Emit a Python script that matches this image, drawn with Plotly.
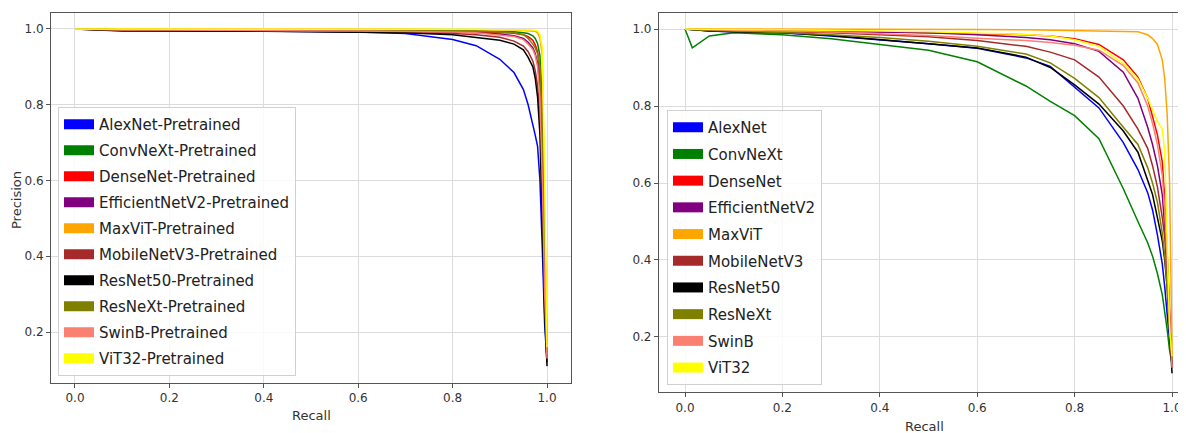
import plotly.graph_objects as go

# ---------------- data ----------------
MODELS = ["AlexNet", "ConvNeXt", "DenseNet", "EfficientNetV2", "MaxViT",
          "MobileNetV3", "ResNet50", "ResNeXt", "SwinB", "ViT32"]
COLORS = ["#0000FF", "#008000", "#FF0000", "#800080", "#FFA500",
          "#A52A2A", "#000000", "#808000", "#FA8072", "#FFFF00"]

# Left panel: pretrained models
REC_L = [0, 0.05, 0.1, 0.2, 0.3, 0.4, 0.5, 0.6, 0.7, 0.8, 0.85, 0.9, 0.93,
         0.95, 0.96, 0.97, 0.975, 0.98, 0.985, 0.99, 0.995, 1.0]
ALEX_L = [1.0, .998, .997, .997, .996, .995, .994, .992, .988, .972, .956, .92, .885, .84, .80, .75, .72, .69, .60, .42, .22, .12]
CONV_L = [1.0, .999, .998, .998, .998, .998, .998, .997, .997, .996, .995, .994, .993, .99, .988, .982, .975, .962, .93, .80, .45, .15]
DENSE_L = [1.0, .999, .998, .998, .997, .997, .997, .996, .995, .994, .993, .991, .989, .985, .98, .97, .958, .94, .88, .70, .35, .13]
EFF_L = [1.0, .998, .997, .997, .996, .996, .995, .995, .994, .992, .99, .987, .982, .975, .965, .95, .935, .91, .85, .65, .32, .13]
MAX_L = [1.0, 1.0, 1.0, 1.0, .999, .999, .999, .999, .999, .998, .998, .997, .997, .996, .995, .995, .994, .99, .975, .93, .50, .15]
MOB_L = [1.0, .997, .996, .995, .995, .994, .994, .993, .991, .988, .985, .978, .968, .955, .94, .915, .89, .85, .77, .55, .30, .12]
RES_L = [1.0, .997, .995, .995, .995, .994, .993, .992, .99, .985, .978, .97, .96, .945, .925, .90, .87, .82, .72, .50, .25, .11]
RNX_L = [1.0, .999, .998, .998, .997, .997, .997, .996, .996, .995, .994, .992, .99, .985, .975, .96, .95, .935, .90, .75, .40, .14]
SWIN_L = [1.0, .998, .997, .997, .996, .996, .995, .995, .994, .992, .99, .985, .98, .972, .96, .945, .93, .90, .82, .60, .30, .13]
VIT_L = [1.0, 1.0, 1.0, 1.0, 1.0, 1.0, 1.0, .999, .999, .999, .999, .998, .998, .998, .997, .997, .996, .995, .985, .95, .60, .16]

# Right panel: models trained from scratch
REC_R = [0, 0.015, 0.05, 0.1, 0.2, 0.3, 0.4, 0.5, 0.6, 0.7, 0.75, 0.8, 0.85,
         0.9, 0.93, 0.95, 0.96, 0.97, 0.98, 0.985, 0.99, 0.995, 1.0]
ALEX_R = [1.0, .998, .995, .993, .99, .982, .972, .962, .95, .925, .903, .85, .795, .705, .635, .575, .53, .465, .39, .33, .26, .19, .15]
CONV_R = [1.0, .951, .982, .99, .985, .975, .96, .945, .915, .852, .812, .775, .715, .585, .50, .445, .41, .365, .31, .27, .22, .165, .13]
DENSE_R = [1.0, 1.0, .999, .998, .997, .995, .993, .991, .988, .985, .982, .975, .96, .92, .875, .82, .775, .725, .655, .56, .42, .25, .12]
EFF_R = [1.0, 1.0, .999, .998, .996, .994, .992, .99, .985, .978, .972, .962, .942, .888, .82, .745, .70, .645, .57, .49, .40, .25, .13]
MAX_R = [1.0, 1.0, 1.0, 1.0, 1.0, 1.0, 1.0, .999, .999, .998, .997, .996, .995, .994, .993, .985, .975, .96, .92, .87, .78, .60, .15]
MOB_R = [1.0, .999, .998, .996, .993, .99, .985, .98, .97, .955, .94, .92, .875, .80, .74, .69, .645, .59, .51, .46, .36, .24, .13]
RES_R = [1.0, .998, .995, .993, .99, .983, .973, .962, .951, .927, .90, .855, .805, .735, .68, .61, .57, .51, .45, .40, .33, .22, .106]
RNX_R = [1.0, .998, .996, .994, .991, .985, .978, .968, .955, .935, .912, .872, .822, .745, .70, .64, .60, .55, .47, .41, .33, .22, .14]
SWIN_R = [1.0, 1.0, .999, .997, .995, .992, .988, .983, .976, .97, .965, .958, .945, .905, .86, .80, .755, .70, .62, .53, .40, .24, .12]
VIT_R = [1.0, 1.0, 1.0, .999, .998, .997, .995, .993, .99, .986, .982, .972, .955, .91, .87, .82, .79, .76, .74, .68, .45, .22, .15]

LEFT_CURVES = [ALEX_L, CONV_L, DENSE_L, EFF_L, MAX_L, MOB_L, RES_L, RNX_L, SWIN_L, VIT_L]
RIGHT_CURVES = [ALEX_R, CONV_R, DENSE_R, EFF_R, MAX_R, MOB_R, RES_R, RNX_R, SWIN_R, VIT_R]

X_TICKS = [0.0, 0.2, 0.4, 0.6, 0.8, 1.0]
Y_TICKS = [0.2, 0.4, 0.6, 0.8, 1.0]

# ---------------- figure ----------------
FONT = "DejaVu Sans"
OFF = 8                      # page body margin of the html
W, H = 1186 - OFF, 433 - OFF


def px(xp):                  # page x pixel -> paper fraction
    return (xp - OFF) / W


def py(yp):                  # page y pixel (from top) -> paper fraction
    return 1 - (yp - OFF) / H


fig = go.Figure()

for name, col, prec in zip(MODELS, COLORS, LEFT_CURVES):
    fig.add_trace(go.Scatter(x=REC_L, y=prec, mode="lines", xaxis="x", yaxis="y",
                             line=dict(color=col, width=1.5), showlegend=False,
                             hoverinfo="skip"))
for name, col, prec in zip(MODELS, COLORS, RIGHT_CURVES):
    fig.add_trace(go.Scatter(x=REC_R, y=prec, mode="lines", xaxis="x2", yaxis="y2",
                             line=dict(color=col, width=1.5), showlegend=False,
                             hoverinfo="skip"))

# legend patches
for name, col in zip(MODELS, COLORS):
    fig.add_trace(go.Scatter(x=[None], y=[None], mode="lines", xaxis="x", yaxis="y",
                             name=name + "-Pretrained", legendgroup="L" + name,
                             line=dict(color=col, width=10), legend="legend"))
for name, col in zip(MODELS, COLORS):
    fig.add_trace(go.Scatter(x=[None], y=[None], mode="lines", xaxis="x2", yaxis="y2",
                             name=name, legendgroup="R" + name,
                             line=dict(color=col, width=10), legend="legend2"))

axis_common = dict(showgrid=True, gridcolor="#dcdcdc", gridwidth=1,
                   zeroline=False, showline=True, mirror=True,
                   ticks="outside", ticklen=4, tickcolor="#555",
                   tickfont=dict(family=FONT, size=12, color="#333"),
                   automargin=False)

legend_common = dict(font=dict(family=FONT, size=15, color="#222"),
                     bgcolor="rgba(255,255,255,0.85)", bordercolor="#d0d0d0",
                     borderwidth=1, xanchor="left", yanchor="top", itemwidth=30)

fig.update_layout(
    width=W, height=H, autosize=False,
    margin=dict(l=0, r=0, t=0, b=0),
    paper_bgcolor="white", plot_bgcolor="white",
    xaxis=dict(domain=[px(51), px(571)], range=[-0.0508, 1.0508],
               tickvals=X_TICKS, ticktext=[f"{v:.1f}" for v in X_TICKS],
               anchor="y", linecolor="#555", linewidth=1, **axis_common),
    yaxis=dict(domain=[py(383), py(13)], range=[0.0654, 1.0422],
               tickvals=Y_TICKS, ticktext=[f"{v:.1f}" for v in Y_TICKS],
               anchor="x", linecolor="#555", linewidth=1, **axis_common),
    xaxis2=dict(domain=[px(659), 1.0], range=[-0.0534, 1.0287],
                tickvals=X_TICKS, ticktext=[f"{v:.1f}" for v in X_TICKS],
                anchor="y2", linecolor="#555", linewidth=1.2, **axis_common),
    yaxis2=dict(domain=[py(392), py(13)], range=[0.0571, 1.0416],
                tickvals=Y_TICKS, ticktext=[f"{v:.1f}" for v in Y_TICKS],
                anchor="x2", linecolor="#555", linewidth=1.2, **axis_common),
    legend=dict(x=px(58), y=py(107), tracegroupgap=3.5, **legend_common),
    legend2=dict(x=px(667), y=py(110), tracegroupgap=4.2, **legend_common),
    annotations=[
        dict(text="Recall", xref="paper", yref="paper", x=px(311), y=py(415),
             showarrow=False, font=dict(family=FONT, size=13, color="#333"),
             xanchor="center", yanchor="middle"),
        dict(text="Recall", xref="paper", yref="paper", x=px(924), y=py(426),
             showarrow=False, font=dict(family=FONT, size=13, color="#333"),
             xanchor="center", yanchor="middle"),
        dict(text="Precision", xref="paper", yref="paper", x=px(16), y=py(200),
             showarrow=False, textangle=-90,
             font=dict(family=FONT, size=13, color="#333"),
             xanchor="center", yanchor="middle"),
    ],
)

fig.write_html("out.html")
